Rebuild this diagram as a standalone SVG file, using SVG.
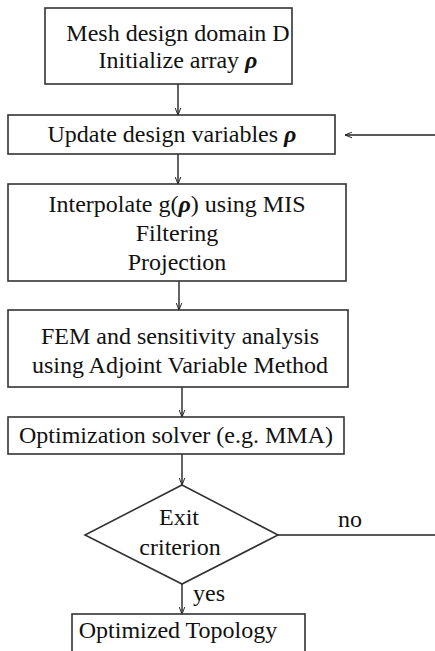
<svg xmlns="http://www.w3.org/2000/svg" width="435" height="651" viewBox="0 0 435 651">
<defs>
<marker id="ah" viewBox="0 0 10 10" refX="10" refY="5" markerWidth="7" markerHeight="7" orient="auto" markerUnits="userSpaceOnUse">
<path d="M0,1 L10,5 L0,9" fill="none" stroke="#222" stroke-width="1.4"/>
</marker>
<style>
.box{fill:#fff;stroke:#333;stroke-width:1.6}
.t{font-family:"Liberation Serif","Times New Roman",serif;font-size:24px;fill:#111;text-anchor:middle}
.r{font-weight:bold;font-style:italic}
.c{fill:none;stroke:#222;stroke-width:1.4}
</style>
</defs>
<rect width="435" height="651" fill="#fff"/>
<g id="connectors">
<line class="c" x1="178" y1="84" x2="178" y2="115" marker-end="url(#ah)"/>
<line class="c" x1="435" y1="135" x2="345" y2="135" marker-end="url(#ah)"/>
<line class="c" x1="178" y1="154" x2="178" y2="184" marker-end="url(#ah)"/>
<line class="c" x1="179" y1="281" x2="179" y2="310" marker-end="url(#ah)"/>
<line class="c" x1="182" y1="387" x2="182" y2="417" marker-end="url(#ah)"/>
<line class="c" x1="182" y1="454" x2="182" y2="485" marker-end="url(#ah)"/>
<line class="c" x1="278" y1="535" x2="435" y2="535"/>
<line class="c" x1="182" y1="584" x2="182" y2="614" marker-end="url(#ah)"/>
<text class="t" x="350" y="527">no</text>
<text class="t" x="209" y="601">yes</text>
</g>
<g id="n1">
<rect class="box" x="45" y="8" width="247" height="76"/>
<text class="t" x="178" y="41">Mesh design domain D</text>
<text class="t" x="178" y="68">Initialize array <tspan class="r">ρ</tspan></text>
</g>
<g id="n2">
<rect class="box" x="8" y="115" width="327" height="39"/>
<text class="t" x="172" y="142">Update design variables <tspan class="r">ρ</tspan></text>
</g>
<g id="n3">
<rect class="box" x="8" y="184" width="338" height="97"/>
<text class="t" x="177" y="212">Interpolate g(<tspan class="r">ρ</tspan>) using MIS</text>
<text class="t" x="177" y="241">Filtering</text>
<text class="t" x="177" y="270">Projection</text>
</g>
<g id="n4">
<rect class="box" x="8" y="310" width="340" height="77"/>
<text class="t" x="180" y="344">FEM and sensitivity analysis</text>
<text class="t" x="180" y="373">using Adjoint Variable Method</text>
</g>
<g id="n5">
<rect class="box" x="8" y="417" width="336" height="37"/>
<text class="t" x="176" y="443">Optimization solver (e.g. MMA)</text>
</g>
<g id="n6">
<polygon class="box" points="182,485 278,535 182,584 85,535"/>
<text class="t" x="179" y="525">Exit</text>
<text class="t" x="180" y="555">criterion</text>
</g>
<g id="n7">
<rect class="box" x="72" y="614" width="233" height="45"/>
<text class="t" x="178" y="638">Optimized Topology</text>
</g>
</svg>
